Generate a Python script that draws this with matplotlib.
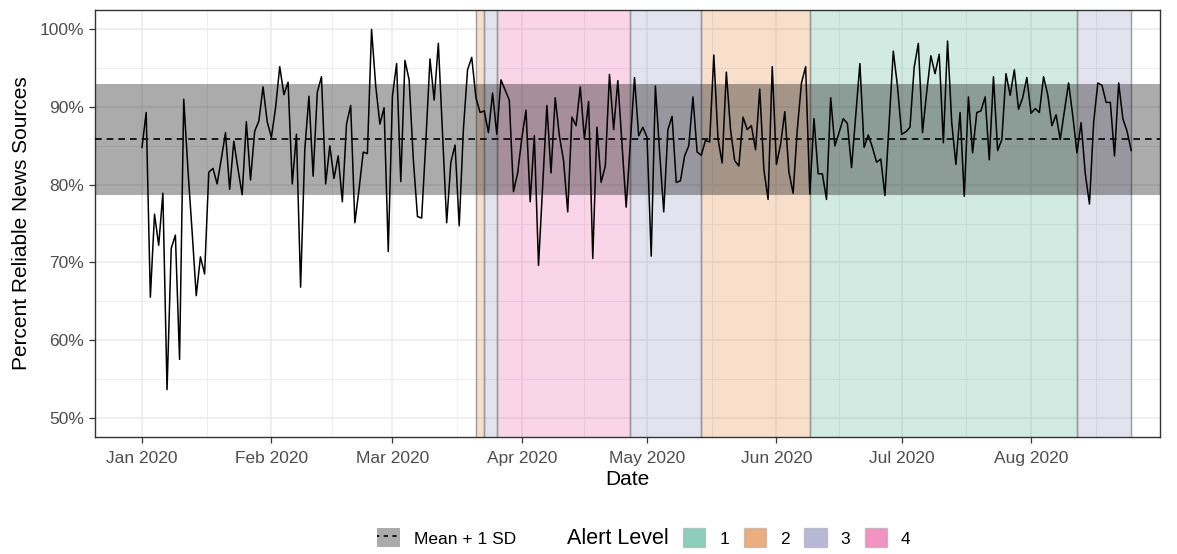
"""
Reliable news sources over 2020, with NZ alert-level periods shaded.
"""
import numpy as np
import pandas as pd
import matplotlib
matplotlib.use("Agg")
import matplotlib.pyplot as plt
from matplotlib.patches import Patch
from matplotlib.lines import Line2D
from matplotlib.legend_handler import HandlerTuple

plt.rcParams["font.family"] = ["Liberation Sans", "DejaVu Sans"]

START = "2020-01-01"
PCT_RELIABLE = [
    84.8, 89.3, 65.5, 76.2, 72.2, 78.9, 53.6, 71.8, 73.5, 57.5,
    91.0, 82.0, 74.0, 65.7, 70.7, 68.5, 81.6, 82.1, 80.1, 83.3,
    86.7, 79.4, 85.6, 82.0, 78.7, 88.1, 80.6, 86.9, 88.2, 92.6,
    88.1, 86.1, 89.9, 95.2, 91.6, 93.2, 80.1, 86.5, 66.8, 84.5,
    91.4, 81.1, 91.9, 93.9, 80.1, 85.0, 80.8, 83.7, 77.8, 87.8,
    90.2, 75.1, 79.4, 84.2, 84.0, 100.0, 92.7, 87.8, 89.9, 71.4,
    91.4, 95.6, 80.4, 96.0, 93.5, 83.3, 75.9, 75.7, 85.5, 96.2,
    90.9, 98.2, 86.5, 75.1, 82.9, 85.1, 74.7, 87.1, 94.8, 96.4,
    91.2, 89.3, 89.5, 86.7, 91.8, 86.5, 93.5, 92.2, 90.9, 79.1,
    81.5, 86.0, 89.6, 77.8, 86.3, 69.6, 80.0, 90.2, 81.5, 91.2,
    86.3, 83.1, 76.5, 88.7, 87.6, 92.6, 85.9, 90.7, 70.5, 87.4,
    80.3, 82.4, 94.2, 87.1, 93.4, 85.2, 77.1, 85.4, 93.8, 86.3,
    87.4, 86.1, 70.8, 92.7, 84.3, 76.5, 87.1, 88.8, 80.3, 80.5,
    83.7, 85.0, 91.3, 84.2, 83.8, 85.7, 85.5, 96.7, 85.9, 82.8,
    94.5, 87.1, 83.1, 82.4, 88.7, 87.1, 87.6, 84.5, 92.3, 81.9,
    78.1, 95.2, 82.6, 85.2, 89.4, 81.6, 78.9, 87.1, 93.1, 95.2,
    78.8, 88.5, 81.4, 81.4, 78.1, 91.2, 85.0, 86.7, 88.5, 87.9,
    82.2, 88.9, 95.6, 84.8, 86.4, 84.8, 82.9, 83.3, 78.6, 88.0,
    97.2, 92.7, 86.5, 86.8, 87.4, 95.1, 98.2, 86.7, 91.9, 96.6,
    94.3, 96.8, 85.4, 98.5, 88.0, 82.6, 89.3, 78.5, 91.3, 84.1,
    89.3, 89.5, 91.3, 83.2, 93.9, 84.4, 85.8, 94.3, 91.5, 94.8,
    89.7, 91.2, 93.8, 89.2, 89.8, 89.3, 93.9, 91.6, 87.6, 89.0,
    85.8, 89.5, 93.1, 88.9, 84.1, 88.0, 81.4, 77.5, 88.0, 93.1,
    92.8, 90.6, 90.6, 83.7, 93.1, 88.5, 86.9, 84.4,
]

ALERT_START = ["2020-03-21", "2020-03-23", "2020-03-26", "2020-04-27",
               "2020-05-14", "2020-06-09", "2020-08-12"]
ALERT_END = ["2020-03-23", "2020-03-26", "2020-04-27", "2020-05-14",
             "2020-06-09", "2020-08-12", "2020-08-25"]
ALERT_LEVEL = [2, 3, 4, 3, 2, 1, 3]

# Dark2
LEVEL_COLORS = {1: "#1B9E77", 2: "#D95F02", 3: "#7570B3", 4: "#E7298A"}

dates = pd.date_range(START, periods=len(PCT_RELIABLE), freq="D")
vals = np.array(PCT_RELIABLE)
mean, sd = vals.mean(), vals.std(ddof=1)
print(f"mean={mean:.2f} sd={sd:.2f}")

W, H = 1177, 554
fig = plt.figure(figsize=(W / 100, H / 100), dpi=100)
ax = fig.add_axes([95 / W, 1 - 437 / H, (1160 - 95) / W, (437 - 10) / H])

# alert-level periods
for s, e, lv in zip(ALERT_START, ALERT_END, ALERT_LEVEL):
    ax.axvspan(pd.Timestamp(s), pd.Timestamp(e), facecolor=LEVEL_COLORS[lv],
               alpha=0.2, edgecolor="none", zorder=1)
    for t in (s, e):
        ax.axvline(pd.Timestamp(t), color="#9a9a9a", lw=1.0, zorder=1.1)

# mean +/- 1 sd band
ax.axhspan(mean - sd, mean + sd, facecolor="black", alpha=0.33,
           edgecolor="none", zorder=2)
ax.axhline(mean, color="black", lw=1.2, ls=(0, (4, 3)), zorder=3)

ax.plot(dates, vals, color="black", lw=1.1, zorder=4)

# axes
majors = pd.date_range("2020-01-01", "2020-08-01", freq="MS")
ax.set_xticks(majors)
ax.set_xticklabels([d.strftime("%b %Y") for d in majors])
mids = [majors[i] + (majors[i + 1] - majors[i]) / 2 for i in range(len(majors) - 1)]
mids = [majors[0] - (majors[1] - majors[0]) / 2] + mids + [majors[-1] + (majors[-1] - majors[-2]) / 2]
ax.set_xticks(mids, minor=True)

ax.set_yticks(np.arange(50, 101, 10))
ax.set_yticklabels([f"{v}%" for v in range(50, 101, 10)])
ax.set_yticks(np.arange(55, 100, 10), minor=True)

# limits after ticks (set_xticks can widen the view)
t0 = pd.Timestamp(START)
ax.set_xlim(t0 - pd.Timedelta(days=11.26), t0 + pd.Timedelta(days=243.9))
ax.set_ylim(47.5, 102.5)

ax.set_axisbelow(True)
ax.grid(which="major", color="#ebebeb", lw=1.1, zorder=0)
ax.grid(which="minor", color="#ebebeb", lw=0.6, zorder=0)
ax.tick_params(which="major", length=4, width=0.9, color="#333333",
               labelsize=12.5, labelcolor="#4d4d4d")
ax.tick_params(axis="x", which="major", pad=6)
ax.tick_params(axis="y", which="major", pad=4)
ax.tick_params(which="minor", length=0)
for sp in ax.spines.values():
    sp.set_color("#333333")
    sp.set_linewidth(1.0)

ax.set_xlabel("Date", fontsize=15, labelpad=3)
ax.set_ylabel("Percent Reliable News Sources", fontsize=15, labelpad=6)

# legend along the bottom
mean_h = (Patch(facecolor="black", alpha=0.33, edgecolor="none"),
          Line2D([], [], color="black", lw=1.2, ls=(1.2, (2.6, 2.6))))
blank = Patch(facecolor="none", edgecolor="none")
handles = [mean_h, blank] + [Patch(facecolor=LEVEL_COLORS[k], alpha=0.5,
                                   edgecolor="#a0a0a0", lw=1.0) for k in (1, 2, 3, 4)]
labels = ["Mean + 1 SD", "Alert Level", "1", "2", "3", "4"]
leg = fig.legend(handles, labels, loc="center", bbox_to_anchor=(644 / W, 1 - 538 / H),
                 ncol=6, frameon=False, fontsize=12.5, handlelength=1.28,
                 handleheight=1.28, handletextpad=0.8, columnspacing=0.85,
                 handler_map={tuple: HandlerTuple(ndivide=1, pad=0)})
leg.get_texts()[1].set_fontsize(15.5)

fig.savefig("out.png", dpi=100)
